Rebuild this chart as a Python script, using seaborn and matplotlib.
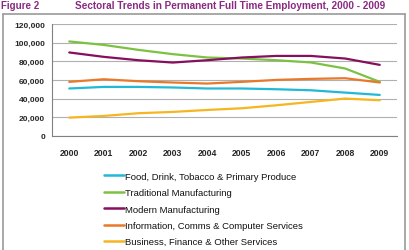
import pandas as pd
import seaborn as sns
import matplotlib.pyplot as plt
from matplotlib.lines import Line2D
from matplotlib.ticker import FuncFormatter, FixedLocator

years = list(range(2000, 2010))

food = [50900, 52600, 52600, 52000, 50900, 50900, 50100, 49000, 46500, 44000]
traditional = [101300, 97600, 92300, 87700, 84100, 83000, 81200, 78800, 72300, 58000]
modern = [89500, 84800, 81200, 78700, 81200, 84100, 85800, 85800, 83000, 76200]
info = [58000, 60800, 58700, 57300, 56200, 58000, 60100, 61200, 61900, 57300]
business = [19700, 21500, 24400, 25800, 27900, 29700, 32900, 36500, 40100, 38300]

sectores = [
    "Food, Drink, Tobacco & Primary Produce",
    "Traditional Manufacturing",
    "Modern Manufacturing",
    "Information, Comms & Computer Services",
    "Business, Finance & Other Services",
]
cores = ["#21b9d6", "#7cc242", "#870f5e", "#e8792a", "#f5b622"]

df = pd.DataFrame(
    [food, traditional, modern, info, business], index=sectores, columns=years
).T.melt(ignore_index=False, var_name="sector", value_name="emprego").reset_index(names="ano")

sns.set_style("white")
plt.rcParams["font.family"] = ["Liberation Sans", "DejaVu Sans"]

fig = plt.figure(figsize=(4.09, 2.51), dpi=100)
ax = fig.add_axes([52 / 409, 1 - 137 / 251, 345 / 409, 112 / 251])

sns.lineplot(data=df, x="ano", y="emprego", hue="sector", palette=cores,
             linewidth=1.6, legend=False, ax=ax)

ax.set_xlim(1999.5, 2009.5)
ax.set_ylim(0, 120000)
ax.set_xticks(years)
ax.set_xticklabels([str(a) for a in years], fontsize=6.2, fontweight="bold")
ax.xaxis.set_minor_locator(FixedLocator([a - 0.5 for a in years] + [2009.5]))
ax.tick_params(axis="x", which="major", length=0, pad=9)
ax.tick_params(axis="x", which="minor", length=3, color="#808080", width=0.8)
ax.set_yticks(range(0, 120001, 20000))
ax.yaxis.set_major_formatter(FuncFormatter(lambda v, p: f"{int(v):,}"))
ax.tick_params(axis="y", labelsize=6, length=3, color="#808080", width=0.8, pad=2)
for lab in ax.get_yticklabels():
    lab.set_fontweight("bold")
ax.grid(axis="y", color="#b0b0b0", linewidth=0.8)
ax.set_axisbelow(True)
ax.set_xlabel("")
ax.set_ylabel("")
sns.despine(ax=ax, top=True, right=True)
ax.spines["left"].set_color("#808080")
ax.spines["bottom"].set_color("#808080")
ax.spines["left"].set_linewidth(0.8)
ax.spines["bottom"].set_linewidth(0.8)

# legenda
handles = [Line2D([], [], color=c, linewidth=1.8) for c in cores]
fig.legend(handles, sectores, loc="upper left", bbox_to_anchor=(100 / 409, 1 - 169 / 251),
           frameon=False, fontsize=6.8, handlelength=2.1, handletextpad=0.1,
           labelspacing=0.78, borderaxespad=0, labelcolor="#111111")

# moldura
moldura = dict(color="#9a9a9a", linewidth=1.2, transform=fig.transFigure)
fig.add_artist(Line2D([3 / 409, 3 / 409], [0, 1 - 15 / 251], **moldura))
fig.add_artist(Line2D([405 / 409, 405 / 409], [0, 1 - 15 / 251], **moldura))
fig.add_artist(Line2D([3 / 409, 405 / 409], [1 - 15 / 251, 1 - 15 / 251], **moldura))

roxo = "#8a2a82"
fig.text(1 / 409, 1 - 6 / 251, "Figure 2", color=roxo, fontsize=7, fontweight="bold", va="center")
fig.text(75 / 409, 1 - 6 / 251, "Sectoral Trends in Permanent Full Time Employment, 2000 - 2009",
         color=roxo, fontsize=7.2, fontweight="bold", va="center")

fig.savefig("out.png", dpi=100)
